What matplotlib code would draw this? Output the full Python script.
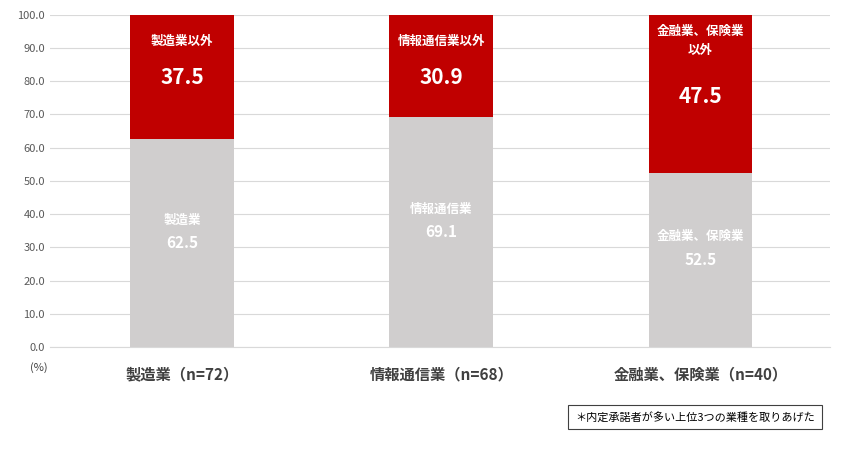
import matplotlib
matplotlib.use("Agg")
import matplotlib.pyplot as plt

plt.rcParams['font.family'] = ['Noto Sans CJK JP', 'DejaVu Sans']

categories = ["製造業（n=72）", "情報通信業（n=68）", "金融業、保険業（n=40）"]
inner_labels = ["製造業", "情報通信業", "金融業、保険業"]
outer_labels = ["製造業以外", "情報通信業以外", "金融業、保険業\n以外"]
inner_values = [62.5, 69.1, 52.5]
outer_values = [37.5, 30.9, 47.5]

fig = plt.figure(figsize=(8.46, 4.5), dpi=100)
ax = fig.add_axes([0.059, 0.229, 0.922, 0.738])
x = range(len(categories))
ax.bar(x, inner_values, width=0.4, color="#D0CECE", zorder=2)
ax.bar(x, outer_values, width=0.4, bottom=inner_values, color="#C00000", zorder=2)

for i in x:
    iv, ov = inner_values[i], outer_values[i]
    ax.text(i, iv / 2 + 7, inner_labels[i], ha="center", va="center", color="white",
            fontsize=9, fontweight="bold")
    ax.text(i, iv / 2, f"{iv:.1f}", ha="center", va="center", color="white",
            fontsize=11, fontweight="bold")
    if "\n" in outer_labels[i]:
        ax.text(i, 92, outer_labels[i], ha="center", va="center", color="white",
                fontsize=9, fontweight="bold", linespacing=1.6)
        ax.text(i, 75.5, f"{ov:.1f}", ha="center", va="center", color="white",
                fontsize=15, fontweight="bold")
    else:
        ax.text(i, 92, outer_labels[i], ha="center", va="center", color="white",
                fontsize=9, fontweight="bold")
        ax.text(i, 81, f"{ov:.1f}", ha="center", va="center", color="white",
                fontsize=15, fontweight="bold")

ax.set_xlim(-0.51, 2.5)
ax.set_ylim(0, 100)
ax.set_yticks(range(0, 101, 10))
ax.set_yticklabels([f"{v:.1f}" for v in range(0, 101, 10)], fontsize=8, color="#595959")
ax.set_xticks(list(x))
ax.set_xticklabels(categories, fontsize=11, fontweight="bold", color="#404040")
ax.tick_params(axis="both", length=0)
ax.tick_params(axis="x", pad=14)
ax.grid(axis="y", color="#D9D9D9", linewidth=0.8, zorder=0)
for s in ["top", "right", "left"]:
    ax.spines[s].set_visible(False)
ax.spines["bottom"].set_color("#D9D9D9")

fig.text(30 / 846, 1 - 368 / 450, "(%)", fontsize=8, color="#404040", va="center")
fig.text(695 / 846, 1 - 417 / 450, "＊内定承諾者が多い上位3つの業種を取りあげた",
         fontsize=8, ha="center", va="center", color="black",
         bbox=dict(boxstyle="square,pad=0.6", facecolor="white", edgecolor="#404040", linewidth=0.8))

fig.savefig("out.png", dpi=100)
